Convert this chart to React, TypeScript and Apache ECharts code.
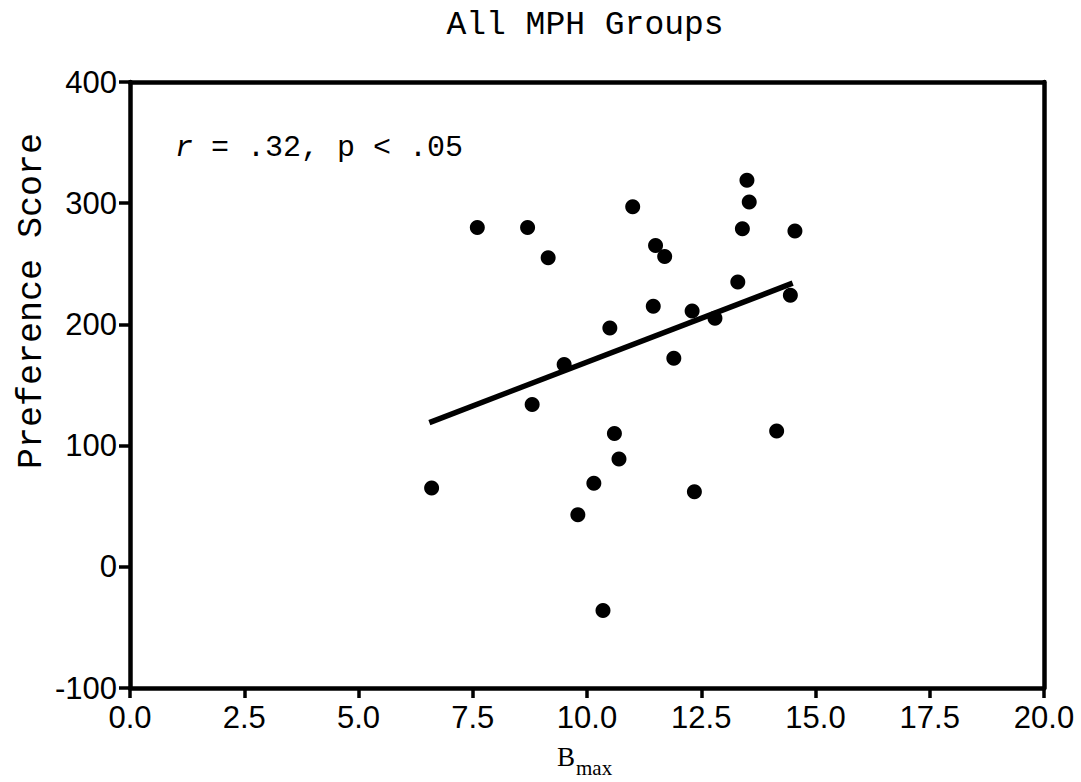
import React, { useEffect, useRef } from "react";
import * as echarts from "echarts";

const TITLE = "All MPH Groups";
const X_NAME_MAIN = "B";
const X_NAME_SUB = "max";
const Y_NAME = "Preference Score";
const ANNOT_R = "r";
const ANNOT_REST = " = .32, p < .05";

const X_TICKS = [0, 2.5, 5, 7.5, 10, 12.5, 15, 17.5, 20];
const Y_TICKS = [-100, 0, 100, 200, 300, 400];

const bmax = [
  6.6, 7.6, 8.7, 8.8, 9.15, 9.5, 9.8, 10.15, 10.35, 10.5, 10.6, 10.7, 11.0, 11.45,
  11.5, 11.7, 11.9, 12.3, 12.35, 12.8, 13.3, 13.4, 13.5, 13.55, 14.15, 14.45, 14.55,
];
const score = [
  65, 280, 280, 134, 255, 167, 43, 69, -36, 197, 110, 89, 297, 215,
  265, 256, 172, 211, 62, 205, 235, 279, 319, 301, 112, 224, 277,
];

const fitX = [6.55, 14.5];
const fitY = [119, 234];

export default function App() {
  const ref = useRef<HTMLDivElement>(null);
  useEffect(() => {
    if (!ref.current) return;
    const chart = echarts.init(ref.current, null, { renderer: "svg" });
    const mono = "'Liberation Mono', 'Courier New', monospace";
    const sans = "'Liberation Sans', Arial, sans-serif";
    const serif = "'Liberation Serif', 'Times New Roman', serif";
    const axisLine = { show: true, onZero: false, lineStyle: { color: "#000", width: 4.5 } };
    chart.setOption({
      animation: false,
      backgroundColor: "#fff",
      grid: { left: 130, top: 82, right: 37, bottom: 94, containLabel: false },
      xAxis: [
        {
          type: "value",
          min: X_TICKS[0],
          max: X_TICKS[X_TICKS.length - 1],
          interval: 2.5,
          position: "bottom",
          axisLine,
          axisTick: { show: true, length: 10, lineStyle: { color: "#000", width: 3.5 } },
          axisLabel: {
            margin: 14,
            color: "#000",
            fontFamily: sans,
            fontSize: 31,
            formatter: (v: number) => v.toFixed(1),
          },
          splitLine: { show: false },
        },
        {
          type: "value",
          min: X_TICKS[0],
          max: X_TICKS[X_TICKS.length - 1],
          position: "top",
          axisLine,
          axisTick: { show: false },
          axisLabel: { show: false },
          splitLine: { show: false },
        },
      ],
      yAxis: [
        {
          type: "value",
          min: Y_TICKS[0],
          max: Y_TICKS[Y_TICKS.length - 1],
          interval: 100,
          position: "left",
          axisLine,
          axisTick: { show: true, length: 11, lineStyle: { color: "#000", width: 3.5 } },
          axisLabel: { margin: 13, color: "#000", fontFamily: sans, fontSize: 31 },
          splitLine: { show: false },
        },
        {
          type: "value",
          min: Y_TICKS[0],
          max: Y_TICKS[Y_TICKS.length - 1],
          position: "right",
          axisLine,
          axisTick: { show: false },
          axisLabel: { show: false },
          splitLine: { show: false },
        },
      ],
      series: [
        {
          type: "line",
          data: fitX.map((x, i) => [x, fitY[i]]),
          showSymbol: false,
          symbol: "none",
          lineStyle: { color: "#000", width: 5.5 },
          z: 3,
        },
        {
          type: "scatter",
          data: bmax.map((x, i) => [x, score[i]]),
          symbol: "circle",
          symbolSize: 15,
          itemStyle: { color: "#000", opacity: 1 },
          z: 4,
        },
      ],
      graphic: [
        {
          type: "text",
          x: 585,
          y: 25,
          style: {
            text: TITLE,
            fontFamily: mono,
            fontSize: 33,
            fill: "#000",
            align: "center",
            verticalAlign: "middle",
          },
        },
        {
          type: "text",
          x: 32,
          y: 301,
          rotation: Math.PI / 2,
          style: {
            text: Y_NAME,
            fontFamily: mono,
            fontSize: 35,
            fill: "#000",
            align: "center",
            verticalAlign: "middle",
          },
        },
        {
          type: "text",
          x: 175,
          y: 148,
          style: {
            text: "{i|" + ANNOT_R + "}{n|" + ANNOT_REST + "}",
            fill: "#000",
            align: "left",
            verticalAlign: "middle",
            rich: {
              i: { fontFamily: mono, fontSize: 30, fontStyle: "italic", fill: "#000" },
              n: { fontFamily: mono, fontSize: 30, fill: "#000" },
            },
          },
        },
        {
          type: "text",
          x: 557,
          y: 757,
          style: {
            text: X_NAME_MAIN,
            fontFamily: serif,
            fontSize: 27,
            fill: "#000",
            align: "left",
            verticalAlign: "middle",
          },
        },
        {
          type: "text",
          x: 576,
          y: 768,
          style: {
            text: X_NAME_SUB,
            fontFamily: serif,
            fontSize: 21,
            fill: "#000",
            align: "left",
            verticalAlign: "middle",
          },
        },
      ],
    });
    return () => chart.dispose();
  }, []);
  return (
    <div
      ref={ref}
      style={{ position: "fixed", left: 0, top: 0, width: 1081, height: 782, background: "#fff" }}
    />
  );
}
